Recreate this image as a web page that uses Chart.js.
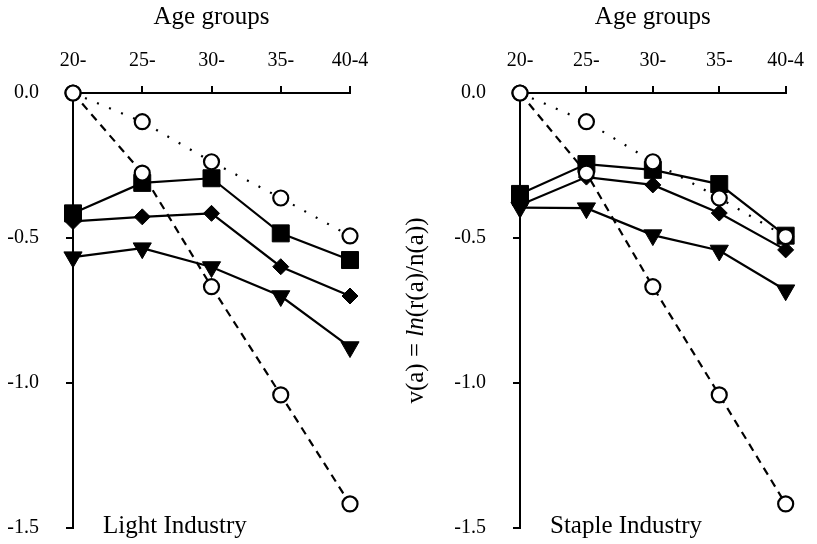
<!DOCTYPE html>
<html>
<head>
<meta charset="utf-8">
<script src="https://cdn.jsdelivr.net/npm/chart.js@4.4.0/dist/chart.umd.min.js"></script>
<style>
  html, body { margin: 0; padding: 0; background: #fff; }
  .panel { position: absolute; top: 0; height: 544px; }
  #leftPanel { left: 0; width: 400px; }
  #rightPanel { left: 400px; width: 417px; }
</style>
</head>
<body>
<div id="leftPanel" class="panel"><canvas id="lightChart"></canvas></div>
<div id="rightPanel" class="panel"><canvas id="stapleChart"></canvas></div>
<script>
// Age groups along the top axis
const ageGroups = ['20-', '25-', '30-', '35-', '40-4'];

// Light Industry
const lightUpper    = [0, -0.099, -0.237, -0.362, -0.493];
const lightLower    = [0, -0.276, -0.668, -1.041, -1.417];
const lightSquare   = [-0.415, -0.310, -0.294, -0.484, -0.576];
const lightDiamond  = [-0.443, -0.427, -0.415, -0.599, -0.700];
const lightTriangle = [-0.566, -0.535, -0.600, -0.700, -0.876];

// Staple Industry
const stapleUpper    = [0, -0.099, -0.237, -0.362, -0.495];
const stapleLower    = [0, -0.276, -0.668, -1.041, -1.417];
const stapleSquare   = [-0.348, -0.245, -0.265, -0.314, -0.492];
const stapleDiamond  = [-0.386, -0.290, -0.317, -0.414, -0.541];
const stapleTriangle = [-0.395, -0.397, -0.490, -0.543, -0.680];

const SERIF = "'Liberation Serif', 'Times New Roman', serif";

function circleSeries(data, dash) {
  return {
    data, borderColor: '#000', borderWidth: 2.2, borderDash: dash,
    pointStyle: 'circle', pointRadius: 7.5, pointBorderWidth: 2.2,
    pointBackgroundColor: '#fff', pointBorderColor: '#000',
    fill: false, tension: 0, clip: false
  };
}
function markSeries(data, style, radius, rotation) {
  return {
    data, borderColor: '#000', borderWidth: 2.2,
    pointStyle: style, pointRadius: radius, pointRotation: rotation || 0,
    pointBorderWidth: 1, pointBackgroundColor: '#000', pointBorderColor: '#000',
    fill: false, tension: 0, clip: false
  };
}

// Panel caption in the lower-left of the plot area
const panelCaption = {
  id: 'panelCaption',
  afterDraw(chart, args, opts) {
    const ctx = chart.ctx;
    ctx.save();
    ctx.font = '25px ' + SERIF;
    ctx.fillStyle = '#000';
    ctx.textAlign = 'left';
    ctx.textBaseline = 'alphabetic';
    ctx.fillText(opts.text, chart.chartArea.left + 30, 533);
    ctx.restore();
  }
};

// Rotated y title with an italic "ln"
const yTitle = {
  id: 'yTitle',
  afterDraw(chart, args, opts) {
    if (!opts.show) return;
    const ctx = chart.ctx;
    const parts = [
      { t: 'v(a) = ', f: '25px ' + SERIF },
      { t: 'ln', f: 'italic 25px ' + SERIF },
      { t: '(r(a)/n(a))', f: '25px ' + SERIF }
    ];
    let total = 0;
    parts.forEach(p => { ctx.font = p.f; p.w = ctx.measureText(p.t).width; total += p.w; });
    const cy = (chart.chartArea.top + chart.chartArea.bottom) / 2;
    ctx.save();
    ctx.translate(opts.x, cy);
    ctx.rotate(-Math.PI / 2);
    ctx.fillStyle = '#000';
    ctx.textBaseline = 'middle';
    ctx.textAlign = 'left';
    let x = -total / 2;
    parts.forEach(p => { ctx.font = p.f; ctx.fillText(p.t, x, 0); x += p.w; });
    ctx.restore();
  }
};

function makeChart(canvasId, series, caption, yWidth, padRight, showYTitle) {
  return new Chart(document.getElementById(canvasId), {
    type: 'line',
    data: {
      labels: ageGroups,
      datasets: [
        circleSeries(series.upper, [2, 11]),
        circleSeries(series.lower, [8, 6]),
        markSeries(series.square, 'rect', 12),
        markSeries(series.diamond, 'rectRot', 8),
        markSeries(series.triangle, 'triangle', 10.5, 180)
      ]
    },
    options: {
      responsive: true,
      maintainAspectRatio: false,
      animation: false,
      layout: { padding: { left: 0, right: padRight, top: 0, bottom: 16 } },
      plugins: {
        legend: { display: false },
        tooltip: { enabled: false },
        panelCaption: { text: caption },
        yTitle: { show: showYTitle, x: 16 }
      },
      scales: {
        x: {
          type: 'category',
          position: 'top',
          offset: false,
          afterFit(scale) { scale.height = 93; },
          border: { display: true, color: '#000', width: 2 },
          grid: { display: true, drawOnChartArea: false, drawTicks: true, tickLength: 7, color: '#000', lineWidth: 2 },
          ticks: { color: '#000', font: { family: SERIF, size: 20 }, padding: 13, maxRotation: 0, autoSkip: false },
          title: { display: true, text: 'Age groups', color: '#000', font: { family: SERIF, size: 25 }, padding: { top: 2, bottom: 0 } }
        },
        y: {
          min: -1.5,
          max: 0,
          afterFit(scale) {
            scale.width = yWidth;
            scale.paddingTop = 0;
            scale.paddingBottom = 0;
          },
          border: { display: true, color: '#000', width: 2 },
          grid: { display: true, drawOnChartArea: false, drawTicks: true, tickLength: 7, color: '#000', lineWidth: 2 },
          ticks: {
            stepSize: 0.5, color: '#000', padding: 27,
            font: { family: SERIF, size: 20 },
            callback: v => Number(v).toFixed(1)
          }
        }
      }
    },
    plugins: [panelCaption, yTitle]
  });
}

makeChart('lightChart', {
  upper: lightUpper, lower: lightLower, square: lightSquare,
  diamond: lightDiamond, triangle: lightTriangle
}, 'Light Industry', 73, 50, false);

makeChart('stapleChart', {
  upper: stapleUpper, lower: stapleLower, square: stapleSquare,
  diamond: stapleDiamond, triangle: stapleTriangle
}, 'Staple Industry', 120, 20, true);
</script>
</body>
</html>
